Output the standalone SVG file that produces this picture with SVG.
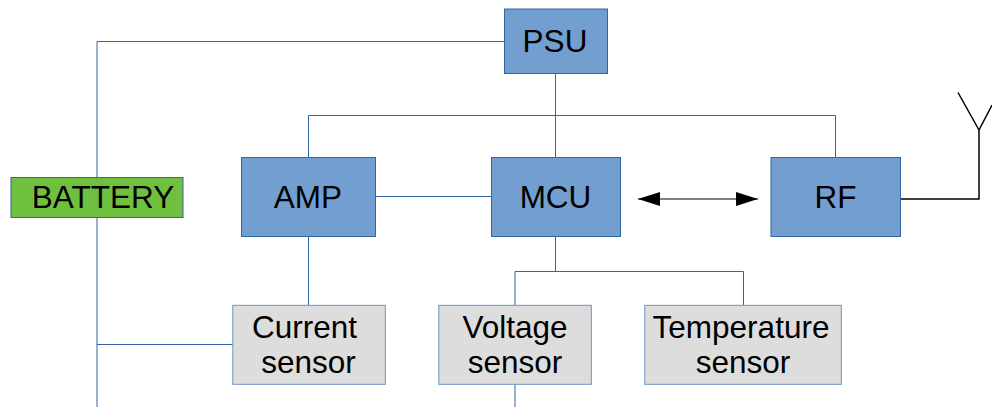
<svg xmlns="http://www.w3.org/2000/svg" width="992" height="407" viewBox="0 0 992 407">
<style>
.b{fill:#729fcf;stroke:#3465a4;stroke-width:1}
.g{fill:#dddddd;stroke:#6f94c4;stroke-width:1}
.c{fill:none;stroke:#3465a4;stroke-width:1}
.k{fill:none;stroke:#000;stroke-width:1.5}
text{font-family:"Liberation Sans",Arial,sans-serif;font-size:31.5px;fill:#000;text-anchor:middle}
</style>
<defs>
<marker id="a" viewBox="0 0 22 14" refX="22" refY="7" markerWidth="22" markerHeight="14" markerUnits="userSpaceOnUse" orient="auto-start-reverse"><path d="M0 0L22 7L0 14Z" fill="#000"/></marker>
</defs>
<rect width="992" height="407" fill="#fff"/>
<g id="connectors">
<path class="c" d="M504.500 41.500H97V407"/>
<path class="c" d="M97 344.500H233"/>
<path class="c" d="M555.500 73V157"/>
<path class="c" d="M308.500 157V115.500H835.500V157"/>
<path class="c" d="M375 196.500H491"/>
<path class="c" d="M308.500 236V305"/>
<path class="c" d="M555.500 236V271.500M515 305V271.500H743.500V305"/>
<path class="c" d="M515 384V407"/>
<path fill="none" stroke="#000" stroke-width="1" d="M638 199H758" marker-start="url(#a)" marker-end="url(#a)"/>
<path class="k" d="M900 199H979V130M958 92.500L979 130L992 105"/>
</g>
<g id="psu"><rect class="b" x="504.500" y="9" width="103" height="64.500"/><text x="555" y="52">PSU</text></g>
<g id="battery"><rect x="11" y="177.500" width="172" height="40" fill="#70c040" stroke="#3465a4"/><text x="103" y="208">BATTERY</text></g>
<g id="amp"><rect class="b" x="241.500" y="157.500" width="134" height="79"/><text x="308" y="208">AMP</text></g>
<g id="mcu"><rect class="b" x="491.500" y="157.500" width="129" height="79"/><text x="555.500" y="208">MCU</text></g>
<g id="rf"><rect class="b" x="771" y="157.500" width="129.500" height="79"/><text x="835.500" y="208">RF</text></g>
<g id="current"><rect class="g" x="232.800" y="305.300" width="152.500" height="79"/><text x="304.500" y="338">Current</text><text x="308.500" y="373">sensor</text></g>
<g id="voltage"><rect class="g" x="438.800" y="305.300" width="152.500" height="79"/><text x="515" y="338">Voltage</text><text x="515" y="373">sensor</text></g>
<g id="temperature"><rect class="g" x="644.800" y="305.300" width="196.500" height="79"/><text x="741" y="338">Temperature</text><text x="743" y="373">sensor</text></g>
</svg>
